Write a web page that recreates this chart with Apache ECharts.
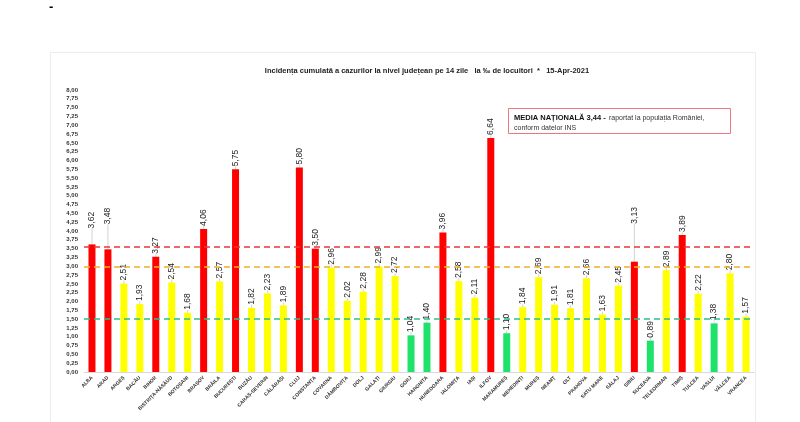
<!DOCTYPE html>
<html><head><meta charset="utf-8">
<script src="https://cdn.jsdelivr.net/npm/echarts@6/dist/echarts.min.js"></script>
<style>html,body{margin:0;padding:0;background:#fff}#c{width:800px;height:422px}</style>
</head><body><div id="c"></div>
<script>
const counties = ['ALBA','ARAD','ARGEȘ','BACĂU','BIHOR','BISTRIȚA-NĂSĂUD','BOTOȘANI','BRAȘOV','BRĂILA','BUCUREȘTI','BUZĂU','CARAȘ-SEVERIN','CĂLĂRAȘI','CLUJ','CONSTANȚA','COVASNA','DÂMBOVIȚA','DOLJ','GALAȚI','GIURGIU','GORJ','HARGHITA','HUNEDOARA','IALOMIȚA','IAȘI','ILFOV','MARAMUREȘ','MEHEDINȚI','MUREȘ','NEAMȚ','OLT','PRAHOVA','SATU MARE','SĂLAJ','SIBIU','SUCEAVA','TELEORMAN','TIMIȘ','TULCEA','VASLUI','VÂLCEA','VRANCEA'];
const incidence = [3.62,3.48,2.51,1.93,3.27,2.54,1.68,4.06,2.57,5.75,1.82,2.23,1.89,5.80,3.50,2.96,2.02,2.28,2.99,2.72,1.04,1.40,3.96,2.58,2.11,6.64,1.10,1.84,2.69,1.91,1.81,2.66,1.63,2.45,3.13,0.89,2.89,3.89,2.22,1.38,2.80,1.57];
const colorClass = ['r','r','y','y','r','y','y','r','y','r','y','y','y','r','r','y','y','y','y','y','g','g','r','y','y','r','g','y','y','y','y','y','y','y','r','g','y','r','y','g','y','y'];
const raisedLabels = {0:13, 1:22, 34:35};
const redLine = 3.56, orangeLine = 3.0, greenLine = 1.5;
const yTicks = {min:0, max:8, interval:0.25};

const palette = {r:'#ff0000', y:'#ffff00', g:'#1ee26a'};
const chart = echarts.init(document.getElementById('c'), null, {renderer:'canvas'});
const fmt = v => v.toFixed(2).replace('.', ',');
chart.setOption({
  animation:false,
  title:{text:'Incidența cumulată a cazurilor la nivel județean pe 14 zile   la ‰ de locuitori  *   15-Apr-2021',
    left:422, top:62, textAlign:'center',
    textStyle:{fontSize:7.5, fontWeight:'bold', color:'#222', fontFamily:'Liberation Sans'}},
  graphic:[
    {type:'rect', shape:{x:50.5,y:52.5,width:705,height:380}, style:{fill:'none', stroke:'#ececec', lineWidth:1}, silent:true},
    {type:'text', left:49, top:1, style:{text:'-', font:'bold 13px Liberation Sans', fill:'#000'}},
    {type:'rect', shape:{x:508.5,y:108.5,width:222,height:25}, style:{fill:'#fff', stroke:'#e8777e', lineWidth:1}, z:10},
    {type:'text', left:514, top:112, z:11, style:{
      rich:{b:{font:'bold 7.5px Liberation Sans', fill:'#111'}, n:{font:'7px Liberation Sans', fill:'#333'}},
      text:'{b|MEDIA NAȚIONALĂ 3,44 -} {n|raportat la populația României,}\n{n|conform datelor INS}', lineHeight:10}}
  ],
  grid:{left:84, right:46, top:90, bottom:50, containLabel:false},
  xAxis:{type:'category', data:counties,
    axisLine:{lineStyle:{color:'#d9d9d9'}}, axisTick:{show:false},
    axisLabel:{rotate:45, fontSize:5, fontWeight:'bold', color:'#333', interval:0, margin:5, fontFamily:'Liberation Sans'}},
  yAxis:{type:'value', min:yTicks.min, max:yTicks.max, interval:yTicks.interval,
    splitLine:{show:false}, axisLine:{show:false}, axisTick:{show:false},
    axisLabel:{formatter:fmt, fontSize:6, fontWeight:'bold', color:'#333', margin:6, fontFamily:'Liberation Sans'}},
  series:[{
    type:'bar', barWidth:7,
    data:incidence.map((v,i)=>({value:v, itemStyle:{color:palette[colorClass[i]]}})),
    label:{show:true, position:'top', rotate:90, align:'left', verticalAlign:'middle', distance:3,
      formatter:p=>fmt(p.value), fontSize:8.5, color:'#222', fontFamily:'Liberation Sans'},
    labelLine:{show:true, lineStyle:{color:'#c8c8c8', width:0.8}},
    labelLayout:p=> raisedLabels[p.dataIndex] !== undefined ? {dx:raisedLabels[p.dataIndex]} : {},
    markLine:{symbol:'none', silent:true, label:{show:false},
      data:[
        {yAxis:redLine, lineStyle:{color:'#e8363b', type:[6,4], width:1.5}},
        {yAxis:orangeLine, lineStyle:{color:'#f0b323', type:[6,4], width:1.5}},
        {yAxis:greenLine, lineStyle:{color:'#2fbf8f', type:[6,4], width:1.5}}
      ]}
  }]
});
</script></body></html>
